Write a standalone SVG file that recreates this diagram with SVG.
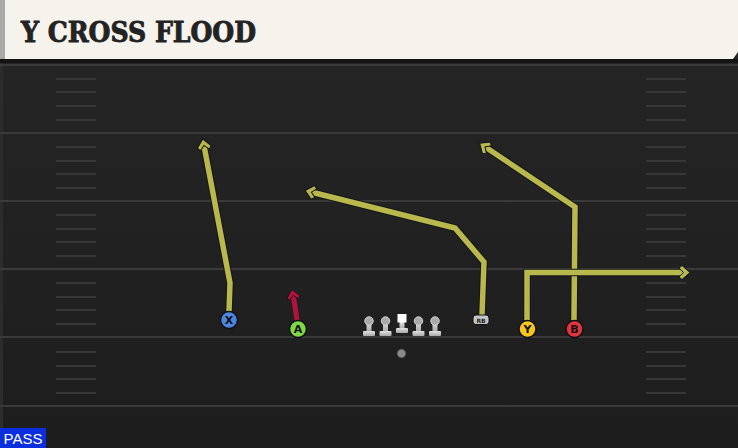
<svg xmlns="http://www.w3.org/2000/svg" width="738" height="448" viewBox="0 0 738 448">
<style>
.yard{stroke:#3a3a3a;stroke-width:2}
.hash{stroke:#373737;stroke-width:2}
.outline{fill:none;stroke:#14141c;stroke-width:7.5;stroke-linejoin:miter}
.route{fill:none;stroke:#b9b84c;stroke-width:5.5;stroke-linejoin:miter}
.red{fill:none;stroke:#b2123c;stroke-width:5;stroke-linecap:butt}
.pl{stroke:#111;stroke-width:1.5}
.lbl{font-family:"DejaVu Sans","Liberation Sans",sans-serif;font-weight:bold;font-size:11px;fill:#111;text-anchor:middle}
</style>
<defs>
<linearGradient id="fieldg" x1="0" y1="0" x2="0" y2="1">
<stop offset="0" stop-color="#262626"/>
<stop offset="1" stop-color="#1d1d1d"/>
</linearGradient>
<linearGradient id="lineg" x1="0" y1="0" x2="0" y2="1">
<stop offset="0" stop-color="#e2e2e2"/>
<stop offset="1" stop-color="#a8a8a8"/>
</linearGradient>
<marker id="ah" markerUnits="userSpaceOnUse" orient="auto" refX="0" refY="0" markerWidth="30" markerHeight="30" overflow="visible">
<path d="M4,0 L-4,-7 L-7,-4.5 L-2.5,0 L-7,4.5 L-4,7 Z" fill="#b9b84c" stroke="#14141c" stroke-width="1"/>
</marker>
<marker id="ahr" markerUnits="userSpaceOnUse" orient="auto" refX="0" refY="0" markerWidth="30" markerHeight="30" overflow="visible">
<path d="M3.5,0 L-4,-6.5 L-6.5,-4.5 L-2.5,0 L-6.5,4.5 L-4,6.5 Z" fill="#b2123c" stroke="#14141c" stroke-width="0.8"/>
</marker>
<symbol id="lineman" overflow="visible">
<rect x="-2.5" y="0" width="5" height="11" fill="url(#lineg)"/>
<rect x="-6" y="10" width="12" height="5" rx="1" fill="url(#lineg)"/>
<circle cx="0" cy="0" r="4.2" fill="#a9a9a9" stroke="#d6d6d6" stroke-width="1"/>
</symbol>
</defs>

<rect x="0" y="0" width="738" height="448" fill="url(#fieldg)"/>
<rect x="0" y="60" width="3" height="388" fill="#2c2c2c"/>

<g id="field">
<line class="yard" x1="0" y1="65" x2="738" y2="65"/>
<line class="yard" x1="0" y1="133" x2="738" y2="133"/>
<line class="yard" x1="0" y1="201" x2="738" y2="201"/>
<line class="yard" x1="0" y1="269" x2="738" y2="269"/>
<line class="yard" x1="0" y1="337" x2="738" y2="337"/>
<line class="yard" x1="0" y1="406" x2="738" y2="406"/>
<g id="hashes-left">
<line class="hash" x1="56" y1="79" x2="96" y2="79"/><line class="hash" x1="56" y1="92" x2="96" y2="92"/><line class="hash" x1="56" y1="106" x2="96" y2="106"/><line class="hash" x1="56" y1="120" x2="96" y2="120"/>
<line class="hash" x1="56" y1="147" x2="96" y2="147"/><line class="hash" x1="56" y1="161" x2="96" y2="161"/><line class="hash" x1="56" y1="174" x2="96" y2="174"/><line class="hash" x1="56" y1="188" x2="96" y2="188"/>
<line class="hash" x1="56" y1="215" x2="96" y2="215"/><line class="hash" x1="56" y1="229" x2="96" y2="229"/><line class="hash" x1="56" y1="242" x2="96" y2="242"/><line class="hash" x1="56" y1="256" x2="96" y2="256"/>
<line class="hash" x1="56" y1="283" x2="96" y2="283"/><line class="hash" x1="56" y1="297" x2="96" y2="297"/><line class="hash" x1="56" y1="310" x2="96" y2="310"/><line class="hash" x1="56" y1="324" x2="96" y2="324"/>
<line class="hash" x1="56" y1="352" x2="96" y2="352"/><line class="hash" x1="56" y1="366" x2="96" y2="366"/><line class="hash" x1="56" y1="379" x2="96" y2="379"/><line class="hash" x1="56" y1="393" x2="96" y2="393"/>
</g>
<g id="hashes-right">
<line class="hash" x1="646" y1="79" x2="686" y2="79"/><line class="hash" x1="646" y1="92" x2="686" y2="92"/><line class="hash" x1="646" y1="106" x2="686" y2="106"/><line class="hash" x1="646" y1="120" x2="686" y2="120"/>
<line class="hash" x1="646" y1="147" x2="686" y2="147"/><line class="hash" x1="646" y1="161" x2="686" y2="161"/><line class="hash" x1="646" y1="174" x2="686" y2="174"/><line class="hash" x1="646" y1="188" x2="686" y2="188"/>
<line class="hash" x1="646" y1="215" x2="686" y2="215"/><line class="hash" x1="646" y1="229" x2="686" y2="229"/><line class="hash" x1="646" y1="242" x2="686" y2="242"/><line class="hash" x1="646" y1="256" x2="686" y2="256"/>
<line class="hash" x1="646" y1="283" x2="686" y2="283"/><line class="hash" x1="646" y1="297" x2="686" y2="297"/><line class="hash" x1="646" y1="310" x2="686" y2="310"/><line class="hash" x1="646" y1="324" x2="686" y2="324"/>
<line class="hash" x1="646" y1="352" x2="686" y2="352"/><line class="hash" x1="646" y1="366" x2="686" y2="366"/><line class="hash" x1="646" y1="379" x2="686" y2="379"/><line class="hash" x1="646" y1="393" x2="686" y2="393"/>
</g>
</g>

<g id="header">
<rect x="0" y="59" width="738" height="4" fill="#141414"/>
<path d="M0,0 H738 V52 L733,59 H0 Z" fill="#f5f3ec"/>
<rect x="0" y="0" width="5" height="59" fill="#a9a9a6"/>
<text x="21" y="42" font-family="'DejaVu Serif','Liberation Serif',serif" font-weight="bold" font-size="28" fill="#232323" stroke="#232323" stroke-width="0.9" textLength="235" lengthAdjust="spacingAndGlyphs">Y CROSS FLOOD</text>
</g>

<g id="connectors">
<path class="outline" d="M229,311 L230,283 L203.5,143"/>
<path class="route" d="M229,311 L230,283 L203.5,143" marker-end="url(#ah)"/>
<path class="outline" d="M482,315 L484,262 L455,228 L309,191.5"/>
<path class="route" d="M482,315 L484,262 L455,228 L309,191.5" marker-end="url(#ah)"/>
<path class="outline" d="M574,320 L575,207 L483,145.5"/>
<path class="route" d="M574,320 L575,207 L483,145.5" marker-end="url(#ah)"/>
<path class="outline" d="M527,320 L527,272.5 L686,272.5"/>
<path class="route" d="M527,320 L527,272.5 L686,272.5" marker-end="url(#ah)"/>
<path class="red" d="M297,320 Q295,305 292.7,293" marker-end="url(#ahr)"/>
</g>

<g id="player-X"><circle class="pl" cx="229" cy="320" r="8.5" fill="#4c85e2"/><text class="lbl" x="229" y="324">X</text></g>
<g id="player-A"><circle class="pl" cx="298" cy="329" r="8.5" fill="#7fd846"/><text class="lbl" x="298" y="333">A</text></g>
<g id="player-Y"><circle class="pl" cx="527.5" cy="329" r="8.5" fill="#f6c61f"/><text class="lbl" x="527.5" y="333">Y</text></g>
<g id="player-B"><circle class="pl" cx="574.5" cy="329" r="8.5" fill="#e2343e"/><text class="lbl" x="574.5" y="333">B</text></g>
<g id="player-RB"><rect x="473" y="315" width="16" height="9.5" rx="3" fill="#c4c4c4" stroke="#111" stroke-width="1"/><text x="481" y="322.5" font-family="'DejaVu Sans','Liberation Sans',sans-serif" font-weight="bold" font-size="6" fill="#222" text-anchor="middle">RB</text></g>

<g id="line-LT"><use href="#lineman" x="369" y="321"/></g>
<g id="line-LG"><use href="#lineman" x="385.5" y="321"/></g>
<g id="line-C">
<rect x="399.5" y="322" width="5" height="7" fill="url(#lineg)"/>
<rect x="396" y="328" width="12" height="5" rx="1" fill="url(#lineg)"/>
<rect x="397.5" y="314" width="9" height="8.5" fill="#ffffff"/>
</g>
<g id="line-RG"><use href="#lineman" x="418.5" y="321"/></g>
<g id="line-RT"><use href="#lineman" x="435" y="321"/></g>
<g id="QB"><circle cx="401.5" cy="353.5" r="4.2" fill="#8a8a8a" stroke="#555" stroke-width="0.8"/></g>

<g id="pass-tag">
<rect x="0" y="428" width="46" height="20" fill="#0b2fdf"/>
<text x="23" y="444" font-family="'Liberation Sans','DejaVu Sans',sans-serif" font-size="15" fill="#ffffff" text-anchor="middle">PASS</text>
</g>
</svg>
